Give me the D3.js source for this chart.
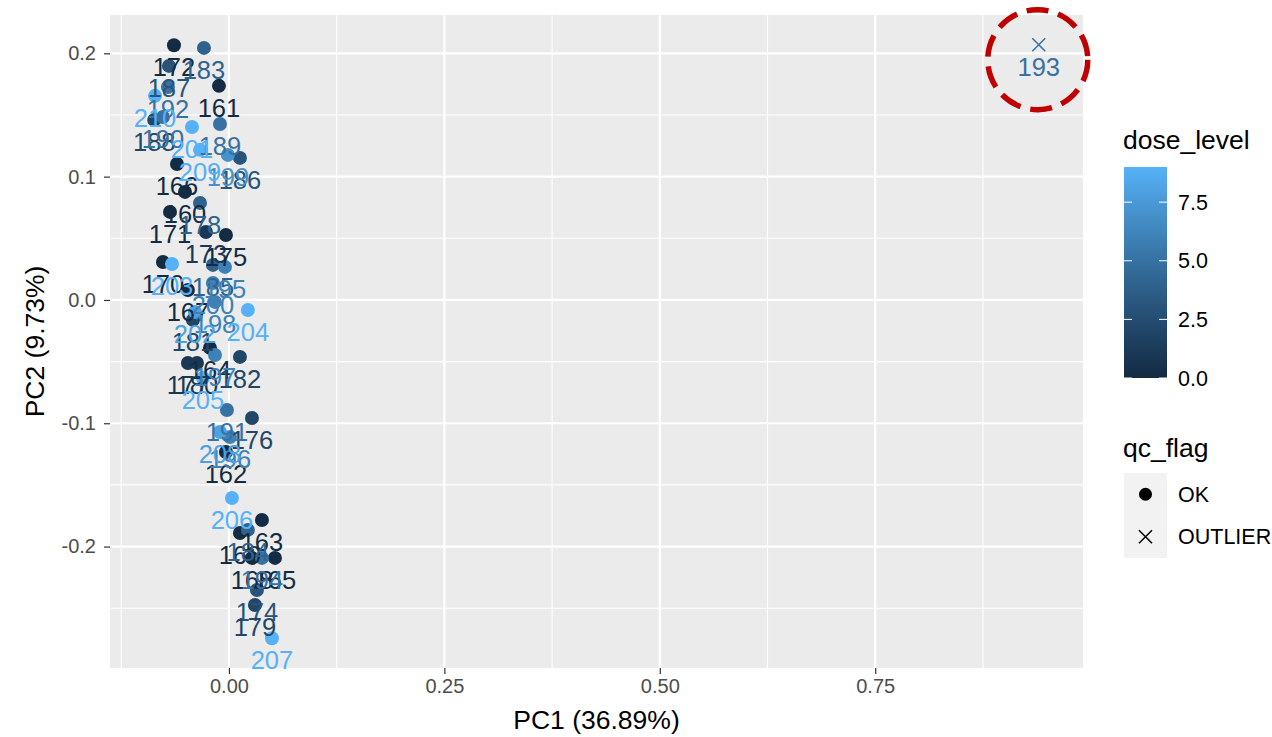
<!DOCTYPE html>
<html>
<head>
<meta charset="utf-8">
<script src="https://cdn.jsdelivr.net/npm/d3@7"></script>
<style>
  body { margin: 0; background: #ffffff; }
  svg { display: block; font-family: "Liberation Sans", Arial, Helvetica, sans-serif; }
</style>
</head>
<body>
<svg id="chart" width="1272" height="737"></svg>
<script>
// PCA scores per sample (PC1, PC2), dose level and QC flag
const sampleIds = [160, 161, 162, 163, 164, 165, 166, 167, 168, 169,
                   170, 171, 172, 173, 174, 175, 176, 177, 178, 179,
                   180, 181, 182, 183, 184, 185, 186, 187, 188, 189,
                   190, 191, 192, 193, 194, 195, 196, 197, 198, 199,
                   200, 201, 202, 203, 204, 205, 206, 207, 208, 209, 210];
const pc1 = [-0.0510, -0.0116, -0.0035, 0.0383, -0.0220, 0.0534, -0.0603, -0.0476, 0.0267, 0.0128,
             -0.0766, -0.0684, -0.0638, -0.0267, 0.0325, -0.0035, 0.0267, -0.0476, -0.0336, 0.0302,
             -0.0371, -0.0418, 0.0128, -0.0290, 0.0220, -0.0186, 0.0128, -0.0696, -0.0867, -0.0104,
             -0.0766, -0.0023, -0.0708, 0.9398, 0.0383, -0.0046, 0.0012, -0.0162, -0.0162, -0.0012,
             -0.0186, -0.0429, -0.0394, -0.0661, 0.0220, -0.0302, 0.0035, 0.0499, -0.0104, -0.0336, -0.0858];
const pc2 = [0.0876, 0.1736, -0.1233, -0.1784, -0.0389, -0.2092, 0.1103, 0.0081, -0.2092, -0.1890,
             0.0308, 0.0714, 0.2065, 0.0551, -0.2352, 0.0527, -0.0957, -0.0511, 0.0787, -0.2474,
             -0.0511, -0.0162, -0.0462, 0.2044, -0.1865, 0.0284, 0.1152, 0.1898, 0.1460, 0.1427,
             0.1484, -0.0892, 0.1727, 0.2070, -0.2092, 0.0268, -0.1111, -0.0446, -0.0016, 0.1176,
             0.0138, 0.1403, -0.0097, 0.0292, -0.0081, -0.0633, -0.1606, -0.2744, -0.1071, 0.1217, 0.1655];
const doseLevel = [0, 0, 0, 0, 0, 0, 0, 0, 0, 0,
                   0, 0, 0, 1, 3, 0, 2, 1, 4, 2,
                   1, 2, 2, 4, 4, 4, 3, 3, 2, 5,
                   5, 5, 5, 5, 5, 6, 6, 6, 6, 7,
                   6, 9, 8, 9, 9, 9, 9, 9, 8, 9, 9];
const qcFlag = sampleIds.map(id => id === 193 ? "OUTLIER" : "OK");

const qcLevels = ["OK", "OUTLIER"];
const xTicks = [0, 0.25, 0.5, 0.75];
const yTicks = [-0.2, -0.1, 0, 0.1, 0.2];
const doseTicks = [0, 2.5, 5, 7.5];
const doseRange = [0, 9];
const xTitle = "PC1 (36.89%)";
const yTitle = "PC2 (9.73%)";
const doseTitle = "dose_level";
const qcTitle = "qc_flag";
const highlightId = 193;

const rows = sampleIds.map((id, i) => ({
  id, x: pc1[i], y: pc2[i], dose: doseLevel[i], flag: qcFlag[i]
}));

// layout
const panel = { left: 110, right: 1083, top: 15, bottom: 668 };
const svg = d3.select("#chart");
const titleSize = 26.5, tickSize = 20, labelSize = 25.5, legendTextSize = 21.5;

// ggplot-style 5% expansion of the data range
function expand(ext) {
  const pad = (ext[1] - ext[0]) * 0.05;
  return [ext[0] - pad, ext[1] + pad];
}
const x = d3.scaleLinear().domain(expand(d3.extent(rows, d => d.x))).range([panel.left, panel.right]);
const y = d3.scaleLinear().domain(expand(d3.extent(rows, d => d.y))).range([panel.bottom, panel.top]);
const colour = d3.scaleLinear().domain(doseRange).range(["#132B43", "#56B1F7"]).interpolate(d3.interpolateLab);
// plain hyphen for negative tick labels
const fmt = spec => v => d3.format(spec)(v).replace("\u2212", "-");

// panel background
svg.append("rect")
  .attr("x", panel.left).attr("y", panel.top)
  .attr("width", panel.right - panel.left).attr("height", panel.bottom - panel.top)
  .attr("fill", "#EBEBEB");

function minors(ticks, dom) {
  const step = ticks[1] - ticks[0];
  const out = ticks.map(t => t - step / 2).concat([ticks[ticks.length - 1] + step / 2]);
  return out.filter(v => v >= dom[0] && v <= dom[1]);
}
const grid = svg.append("g");
grid.selectAll(".xminor").data(minors(xTicks, x.domain())).join("line")
  .attr("x1", d => x(d)).attr("x2", d => x(d)).attr("y1", panel.top).attr("y2", panel.bottom)
  .attr("stroke", "#FFFFFF").attr("stroke-width", 1.1);
grid.selectAll(".yminor").data(minors(yTicks, y.domain())).join("line")
  .attr("y1", d => y(d)).attr("y2", d => y(d)).attr("x1", panel.left).attr("x2", panel.right)
  .attr("stroke", "#FFFFFF").attr("stroke-width", 1.1);
grid.selectAll(".xmajor").data(xTicks).join("line")
  .attr("x1", d => x(d)).attr("x2", d => x(d)).attr("y1", panel.top).attr("y2", panel.bottom)
  .attr("stroke", "#FFFFFF").attr("stroke-width", 2.2);
grid.selectAll(".ymajor").data(yTicks).join("line")
  .attr("y1", d => y(d)).attr("y2", d => y(d)).attr("x1", panel.left).attr("x2", panel.right)
  .attr("stroke", "#FFFFFF").attr("stroke-width", 2.2);

// axes
const xAxis = svg.append("g").attr("transform", `translate(0,${panel.bottom})`)
  .call(d3.axisBottom(x).tickValues(xTicks).tickFormat(fmt(".2f")).tickSize(6).tickPadding(5));
const yAxis = svg.append("g").attr("transform", `translate(${panel.left},0)`)
  .call(d3.axisLeft(y).tickValues(yTicks).tickFormat(fmt(".1f")).tickSize(6).tickPadding(8));
[xAxis, yAxis].forEach(a => {
  a.select(".domain").remove();
  a.selectAll(".tick line").attr("stroke", "#333333").attr("stroke-width", 1.2);
  a.selectAll(".tick text").attr("fill", "#4D4D4D").style("font-size", tickSize + "px")
    .style("font-family", "\"Liberation Sans\", Arial, sans-serif");
});

svg.append("text")
  .attr("x", (panel.left + panel.right) / 2).attr("y", 729)
  .attr("text-anchor", "middle").attr("font-size", titleSize).attr("fill", "#000")
  .text(xTitle);
svg.append("text")
  .attr("transform", `translate(44,${(panel.top + panel.bottom) / 2}) rotate(-90)`)
  .attr("text-anchor", "middle").attr("font-size", titleSize).attr("fill", "#000")
  .text(yTitle);

// points
const pts = svg.append("g");
const cross = 6.5;
rows.forEach(d => {
  const cx = x(d.x), cy = y(d.y), c = colour(d.dose);
  if (d.flag === "OK") {
    pts.append("circle").attr("cx", cx).attr("cy", cy).attr("r", 7).attr("fill", c);
  } else {
    pts.append("path")
      .attr("d", `M${cx - cross},${cy - cross}L${cx + cross},${cy + cross}M${cx - cross},${cy + cross}L${cx + cross},${cy - cross}`)
      .attr("stroke", c).attr("stroke-width", 1.5).attr("fill", "none");
  }
});

// sample labels below each point
svg.append("g").selectAll("text").data(rows).join("text")
  .attr("x", d => x(d.x)).attr("y", d => y(d.y) + 22)
  .attr("dy", "0.35em").attr("text-anchor", "middle")
  .attr("font-size", labelSize).attr("fill", d => colour(d.dose))
  .text(d => d.id);

// highlight ring around the outlier sample
const hl = rows.find(d => d.id === highlightId);
svg.append("circle")
  .attr("cx", x(hl.x) - 1).attr("cy", y(hl.y) + 15).attr("r", 50)
  .attr("fill", "none").attr("stroke", "#C00000").attr("stroke-width", 5.5)
  .attr("stroke-dasharray", "22 10");

// legend: dose_level colourbar
const lg = { x: 1124, w: 43, top: 167, bottom: 378 };
svg.append("text").attr("x", 1123).attr("y", 149).attr("font-size", titleSize).attr("fill", "#000").text(doseTitle);
const grad = svg.append("defs").append("linearGradient").attr("id", "doseGrad")
  .attr("x1", 0).attr("y1", 1).attr("x2", 0).attr("y2", 0);
d3.range(0, 1.0001, 0.05).forEach(t => {
  grad.append("stop").attr("offset", t).attr("stop-color", colour(doseRange[0] + t * (doseRange[1] - doseRange[0])));
});
svg.append("rect").attr("x", lg.x).attr("y", lg.top).attr("width", lg.w).attr("height", lg.bottom - lg.top)
  .attr("fill", "url(#doseGrad)");
const ly = d3.scaleLinear().domain(doseRange).range([lg.bottom, lg.top]);
const lgTicks = svg.append("g");
doseTicks.forEach(v => {
  lgTicks.append("line").attr("x1", lg.x).attr("x2", lg.x + 8).attr("y1", ly(v)).attr("y2", ly(v))
    .attr("stroke", "#FFFFFF").attr("stroke-width", 1);
  lgTicks.append("line").attr("x1", lg.x + lg.w - 8).attr("x2", lg.x + lg.w).attr("y1", ly(v)).attr("y2", ly(v))
    .attr("stroke", "#FFFFFF").attr("stroke-width", 1);
  lgTicks.append("text").attr("x", 1178).attr("y", ly(v)).attr("dy", "0.35em")
    .attr("font-size", legendTextSize).attr("fill", "#000").text(d3.format(".1f")(v));
});

// legend: qc_flag shapes
svg.append("text").attr("x", 1123).attr("y", 457).attr("font-size", titleSize).attr("fill", "#000").text(qcTitle);
const keyH = 42.5, keyTop = 473;
svg.append("rect").attr("x", lg.x).attr("y", keyTop).attr("width", lg.w).attr("height", keyH * qcLevels.length)
  .attr("fill", "#F2F2F2");
qcLevels.forEach((lvl, i) => {
  const cx = lg.x + lg.w / 2, cy = keyTop + keyH * i + keyH / 2;
  if (lvl === "OK") {
    svg.append("circle").attr("cx", cx).attr("cy", cy).attr("r", 6.5).attr("fill", "#000");
  } else {
    svg.append("path")
      .attr("d", `M${cx - cross},${cy - cross}L${cx + cross},${cy + cross}M${cx - cross},${cy + cross}L${cx + cross},${cy - cross}`)
      .attr("stroke", "#000").attr("stroke-width", 1.5).attr("fill", "none");
  }
  svg.append("text").attr("x", 1178).attr("y", cy).attr("dy", "0.35em")
    .attr("font-size", legendTextSize).attr("fill", "#000").text(lvl);
});
</script>
</body>
</html>
